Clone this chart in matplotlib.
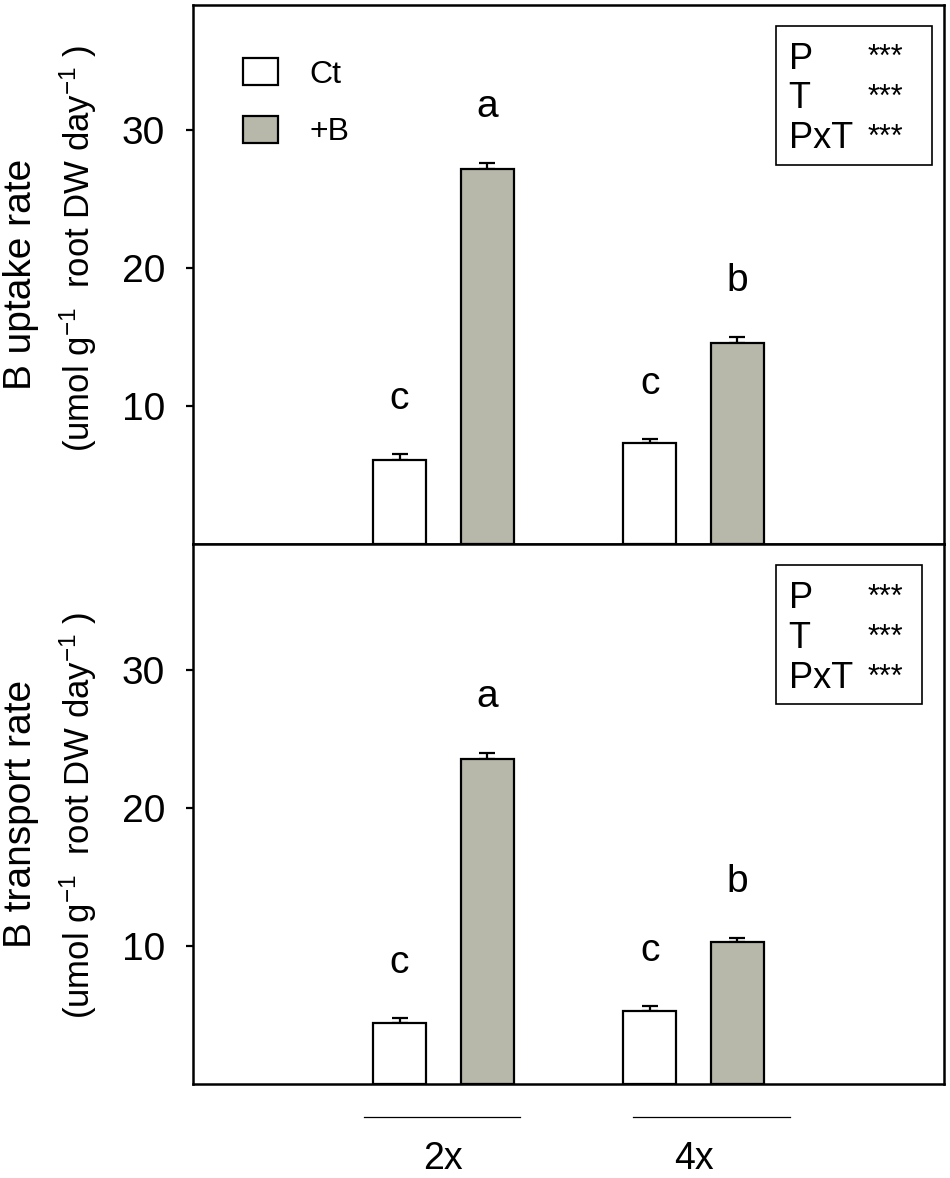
import numpy as np
import matplotlib
matplotlib.use('Agg')
import matplotlib.pyplot as plt
from matplotlib.patches import Rectangle
import matplotlib.transforms as mtransforms

plt.rcParams['font.family'] = ['Liberation Sans', 'DejaVu Sans']
plt.rcParams['mathtext.fontset'] = 'custom'
plt.rcParams['mathtext.rm'] = 'Liberation Sans'
plt.rcParams['mathtext.it'] = 'Liberation Sans'

# Data
groups = ['2x', '4x']
treatments = ['Ct', '+B']

uptake_ct = [6.1, 7.3]
uptake_ct_err = [0.45, 0.3]
uptake_b = [27.2, 14.55]
uptake_b_err = [0.4, 0.45]
uptake_letters_ct = ['c', 'c']
uptake_letters_b = ['a', 'b']

transport_ct = [4.4, 5.3]
transport_ct_err = [0.38, 0.32]
transport_b = [23.5, 10.3]
transport_b_err = [0.45, 0.25]
transport_letters_ct = ['c', 'c']
transport_letters_b = ['a', 'b']

stats_terms = ['P', 'T', 'PxT']
stats_signif = ['***', '***', '***']

ct_color = 'white'
b_color = '#b7b7aa'

fig = plt.figure(figsize=(9.5, 11.78), dpi=100)
ax1 = fig.add_axes([0.2032, 0.5382, 0.7905, 0.4576])
ax2 = fig.add_axes([0.2032, 0.0798, 0.7905, 0.4584])

x = np.array([1.0, 2.0])
off = 0.175
w = 0.212


def draw_panel(ax, ct, ct_err, bb, bb_err, let_ct, let_b, box_right):
    bars_ct = ax.bar(x - off, ct, w, color=ct_color, edgecolor='black',
                     linewidth=1.6, zorder=2, label=treatments[0])
    bars_b = ax.bar(x + off, bb, w, color=b_color, edgecolor='black',
                    linewidth=1.6, zorder=2, label=treatments[1])
    ax.errorbar(x - off, ct, yerr=[np.zeros(2), ct_err], fmt='none',
                ecolor='black', elinewidth=1.6, capsize=6, capthick=1.6, zorder=1)
    ax.errorbar(x + off, bb, yerr=[np.zeros(2), bb_err], fmt='none',
                ecolor='black', elinewidth=1.6, capsize=6, capthick=1.6, zorder=1)
    for i in range(2):
        ax.text(x[i] - off, ct[i] + ct_err[i] + 4.0, let_ct[i], ha='center',
                va='center', fontsize=28)
        ax.text(x[i] + off, bb[i] + bb_err[i] + 4.1, let_b[i], ha='center',
                va='center', fontsize=28)

    ax.set_xlim(0, 3)
    ax.set_ylim(0, 39.1)
    ax.set_yticks([10, 20, 30])
    ax.set_xticks([])
    ax.tick_params(axis='y', direction='out', length=5, width=1.6,
                   labelsize=28, pad=15)
    for s in ax.spines.values():
        s.set_linewidth(1.8)

    # stats box
    ax.add_patch(Rectangle((0.776, 0.703), box_right - 0.776, 0.258,
                           transform=ax.transAxes, fill=False,
                           edgecolor='black', linewidth=1.2, zorder=3))
    ys = [0.882, 0.808, 0.734]
    for term, sig, yy in zip(stats_terms, stats_signif, ys):
        ax.text(0.793, yy, term, transform=ax.transAxes, fontsize=26,
                va='baseline', ha='left')
        ax.text(0.898, yy + 0.004, sig, transform=ax.transAxes, fontsize=22,
                va='baseline', ha='left')
    return bars_ct, bars_b


h1 = draw_panel(ax1, uptake_ct, uptake_ct_err, uptake_b, uptake_b_err,
                uptake_letters_ct, uptake_letters_b, 0.984)
draw_panel(ax2, transport_ct, transport_ct_err, transport_b, transport_b_err,
           transport_letters_ct, transport_letters_b, 0.971)

ax1.legend(handles=list(h1), loc='upper left', bbox_to_anchor=(0.066, 0.902),
           frameon=False, fontsize=23, handlelength=1.1, handleheight=0.95,
           labelspacing=0.82, handletextpad=1.0, borderpad=0, borderaxespad=0)

# y labels
ylab_units = '(umol g$^{-1}$  root DW day$^{-1}$ )'
fig.text(0.022, 0.7670, 'B uptake rate', rotation=90, ha='center',
         va='center', fontsize=28)
fig.text(0.082, 0.7895, ylab_units, rotation=90,
         ha='center', va='center', fontsize=25)
fig.text(0.022, 0.3090, 'B transport rate', rotation=90, ha='center',
         va='center', fontsize=28)
fig.text(0.082, 0.3081, ylab_units, rotation=90,
         ha='center', va='center', fontsize=25)

# group labels with lines under the bottom panel
trans = mtransforms.blended_transform_factory(ax2.transData, ax2.transAxes)
line_spans = [(0.684, 1.308), (1.756, 2.384)]
for (a, b), xc, g in zip(line_spans, x, groups):
    ax2.plot([a, b], [-0.061, -0.061], color='black', linewidth=0.9,
             transform=trans, clip_on=False)
    ax2.text(xc, -0.158, g, transform=trans, ha='center', va='baseline',
             fontsize=27)

fig.savefig('out.png', dpi=100)
